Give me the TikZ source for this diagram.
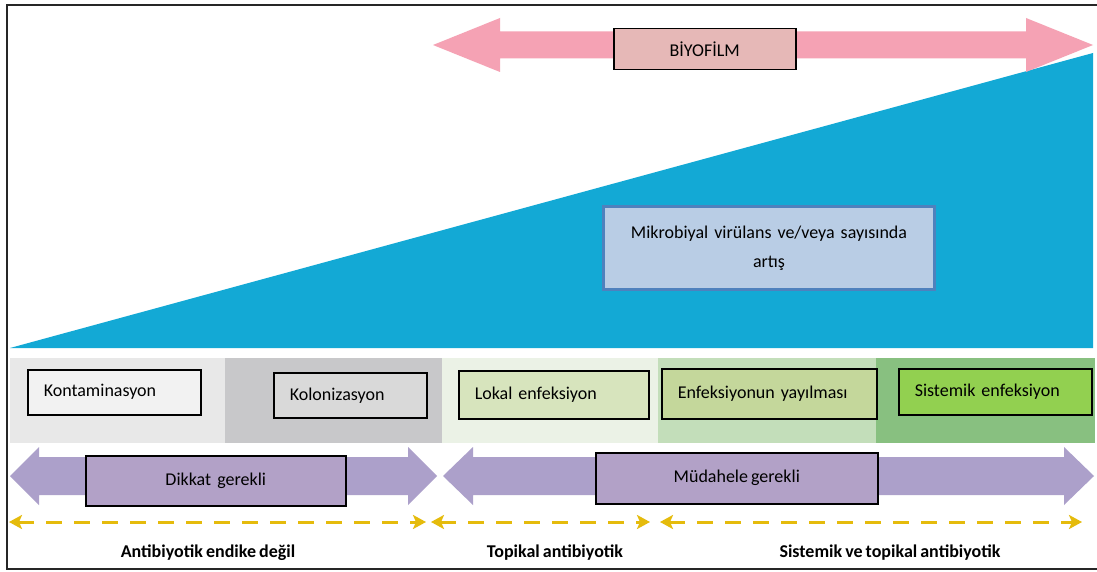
\documentclass[tikz,border=0pt]{standalone}
\usepackage{fontspec}
\setmainfont{Carlito}[WordSpace={0.75,0,0}]
\usetikzlibrary{arrows.meta}
\definecolor{triblue}{RGB}{19,169,213}
\definecolor{pinkarrow}{RGB}{245,162,180}
\definecolor{biofill}{RGB}{230,184,183}
\definecolor{mikrofill}{RGB}{185,205,229}
\definecolor{mikroedge}{RGB}{79,129,189}
\definecolor{bandA}{RGB}{232,232,232}
\definecolor{bandB}{RGB}{200,200,202}
\definecolor{bandC}{RGB}{235,242,230}
\definecolor{bandD}{RGB}{195,222,186}
\definecolor{bandE}{RGB}{136,192,128}
\definecolor{boxA}{RGB}{242,242,242}
\definecolor{boxB}{RGB}{217,217,217}
\definecolor{boxC}{RGB}{215,228,189}
\definecolor{boxD}{RGB}{196,215,155}
\definecolor{boxE}{RGB}{146,208,80}
\definecolor{purplearrow}{RGB}{172,160,202}
\definecolor{purplebox}{RGB}{178,161,199}
\definecolor{golddash}{RGB}{229,187,12}
\newcommand\myDblArrow[7]{%
  \fill[#1] (#2,#4) -- (#2+#7,#4-#6) -- (#2+#7,#4-#5) -- (#3-#7,#4-#5) -- (#3-#7,#4-#6)
   -- (#3,#4) -- (#3-#7,#4+#6) -- (#3-#7,#4+#5) -- (#2+#7,#4+#5) -- (#2+#7,#4+#6) -- cycle;}
\tikzset{
  txt/.style={font=\fontsize{18}{21}\selectfont},
  stagebox/.style={draw=black, line width=1.5pt, anchor=north west, align=left,
     inner xsep=16pt, inner ysep=0pt, txt},
  actbox/.style={draw=black, line width=1.5pt, fill=purplebox, anchor=north west,
     inner sep=0pt, align=center, txt},
  treat/.style={font=\fontsize{18}{21}\selectfont\bfseries},
  golddashed/.style={draw=golddash, line width=3pt, dash pattern=on 16pt off 12pt,
     {Stealth[length=13pt,width=14pt,inset=3pt]}-{Stealth[length=13pt,width=14pt,inset=3pt]}}
}
\begin{document}
\begin{tikzpicture}[x=1pt,y=-1pt]
\useasboundingbox (0,0) rectangle (1097,572);
\fill[white] (0,0) rectangle (1097,572);
% frame
\draw[line width=2.2pt, black!85] (1097,5) -- (7,5) -- (7,569) -- (1097,569);
% blue triangle
\fill[triblue] (10,348) -- (1093,348) -- (1093,53) -- cycle;
% pink double arrow
\myDblArrow{pinkarrow}{433}{1093}{45}{13.5}{27}{67}
\node[draw=black, line width=1.5pt, fill=biofill, anchor=north west, minimum width=182pt,
  minimum height=41pt, inner sep=0pt, txt] (bio) at (613,28) {BİYOFİLM};
% microbial box
\node[draw=mikroedge, line width=3pt, fill=mikrofill, anchor=north west, minimum width=331pt,
  minimum height=83pt, text width=320pt, align=center, inner sep=0pt,
  font=\fontsize{18}{29}\selectfont] (mikro) at (602,205) {Mikrobiyal virülans ve/veya sayısında\\artış};
% bands
\fill[bandA] (10,358) rectangle (225,443);
\fill[bandB] (225,358) rectangle (442,443);
\fill[bandC] (442,358) rectangle (658,443);
\fill[bandD] (658,358) rectangle (876,443);
\fill[bandE] (876,358) rectangle (1095,443);
% stage boxes
\node[stagebox, fill=boxA, text width=141pt, minimum height=45pt] (kont) at (27,369) {Kontaminasyon};
\node[stagebox, fill=boxB, text width=121pt, minimum height=45pt] (kolo) at (273,372) {Kolonizasyon};
\node[stagebox, fill=boxC, text width=158pt, minimum height=48pt] (lokal) at (458,370) {Lokal enfeksiyon};
\node[stagebox, fill=boxD, text width=183pt, minimum height=50pt] (yay) at (661,368) {Enfeksiyonun yayılması};
\node[stagebox, fill=boxE, text width=161pt, minimum height=46pt] (sist) at (898,368) {Sistemik enfeksiyon};
% purple arrows
\myDblArrow{purplearrow}{10}{437}{476}{19}{29}{29}
\myDblArrow{purplearrow}{443}{1094}{476}{19}{29}{30}
\node[actbox, minimum width=260pt, minimum height=50pt] (dikkat) at (85,455) {Dikkat\ \ gerekli};
\node[actbox, minimum width=282pt, minimum height=51pt] (mud) at (595,452) {\raisebox{4pt}{Müdahele gerekli}};
% gold dashed arrows
\coordinate (g1a) at (9,522);   \coordinate (g1b) at (426,522);
\coordinate (g2a) at (431,522); \coordinate (g2b) at (650,522);
\coordinate (g3a) at (660,522); \coordinate (g3b) at (1082,522);
\draw[golddashed] (g1a) -- (g1b);
\draw[golddashed] (g2a) -- (g2b);
\draw[golddashed] (g3a) -- (g3b);
% treatment labels
\node[treat] (t1) at (208,553) {Antibiyotik endike değil};
\node[treat] (t2) at (555,553) {Topikal antibiyotik};
\node[treat] (t3) at (890,553) {Sistemik ve topikal antibiyotik};
\end{tikzpicture}
\end{document}
